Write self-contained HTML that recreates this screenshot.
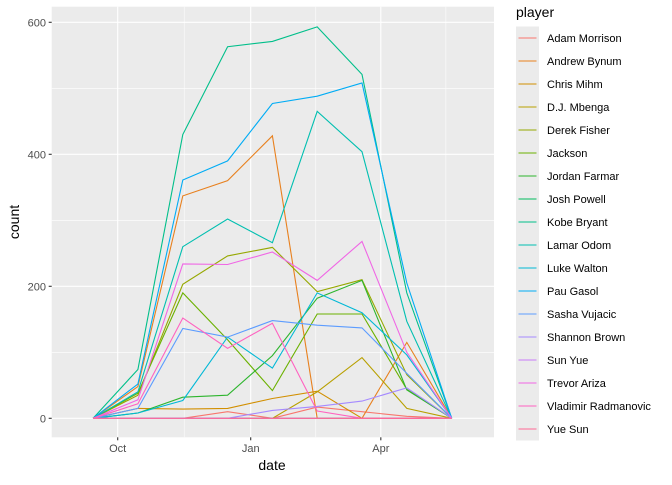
<!DOCTYPE html>
<html><head><meta charset="utf-8"><style>
body{margin:0;background:#fff;}
svg text{font-family:"Liberation Sans",Arial,sans-serif;}
</style></head><body>
<svg id="chart" width="672" height="480" viewBox="0 0 672 480">
<rect x="51.7" y="6.7" width="442.3" height="430.6" fill="#EBEBEB"/>
<g id="grid"></g><g id="series"></g><g id="axes"></g><g id="legend"></g>
<text x="272" y="470" font-size="14" text-anchor="middle" fill="#000">date</text>
<text transform="translate(19,222) rotate(-90)" font-size="14" text-anchor="middle" fill="#000">count</text>
</svg>
<script>
const dayOffsets=[-17,14,45,76,107,138,169,200,231];
const players=["Adam Morrison","Andrew Bynum","Chris Mihm","D.J. Mbenga","Derek Fisher","Jackson","Jordan Farmar","Josh Powell","Kobe Bryant","Lamar Odom","Luke Walton","Pau Gasol","Sasha Vujacic","Shannon Brown","Sun Yue","Trevor Ariza","Vladimir Radmanovic","Yue Sun"];
const colors=["#F8766D","#E8801E","#D28F00","#B8A000","#96A800","#6BB100","#2DB52D","#00BB5E","#00BF8A","#00BFB0","#00B8D6","#00ACF5","#5C9CFF","#A58AFF","#C97BF8","#F066E5","#FF62C0","#FF6A94"];
const vAdam=[0,0,0,10,0,17,10,3,0];
const vBynum=[0,48,337,360,428,0,0,115,0];
const vMihm=[0,15,14,15,30,41,0,0,0];
const vMbenga=[0,0,0,0,0,40,92,15,0];
const vFisher=[0,35,203,246,259,192,210,66,0];
const vJackson=[0,38,190,119,42,158,158,44,0];
const vFarmar=[0,8,32,35,95,182,209,43,0];
const vPowell=[0,0,0,0,0,0,0,0,0];
const vKobe=[0,74,430,563,571,593,521,190,0];
const vLamar=[0,40,260,302,266,465,404,147,0];
const vWalton=[0,8,27,123,76,190,160,96,0];
const vGasol=[0,52,361,390,477,488,508,205,0];
const vVujacic=[0,15,136,123,148,141,137,68,0];
const vBrown=[0,0,0,0,12,18,26,46,0];
const vSunYue=[0,0,0,0,0,0,0,0,0];
const vAriza=[0,28,234,233,252,209,268,100,0];
const vRadmanovic=[0,22,152,106,144,11,0,0,0];
const vYueSun=[0,0,0,0,0,0,0,0,0];
const seriesValues=[vAdam,vBynum,vMihm,vMbenga,vFisher,vJackson,vFarmar,vPowell,vKobe,vLamar,vWalton,vGasol,vVujacic,vBrown,vSunYue,vAriza,vRadmanovic,vYueSun];
const yTicks=[0,200,400,600];
const yMinor=[100,300,500];
const xTickLabels=["Oct","Jan","Apr"];
const xTickDays=[0,92,182];
const xMinorDays=[46,137,227];

const NS="http://www.w3.org/2000/svg";
function xs(d){return 117.7+d*1.4457;}
function ys(v){return 418.3-v*0.66;}
function mk(tag,attrs,parent){const e=document.createElementNS(NS,tag);for(const k in attrs)e.setAttribute(k,attrs[k]);parent.appendChild(e);return e;}
const grid=document.getElementById('grid'),axes=document.getElementById('axes'),ser=document.getElementById('series'),leg=document.getElementById('legend');
yMinor.forEach(v=>{const l=mk('line',{x1:51.7,x2:494,y1:ys(v),y2:ys(v),stroke:'#fff','stroke-width':0.55},grid);

});
xMinorDays.forEach(d=>{const l=mk('line',{x1:xs(d),x2:xs(d),y1:6.7,y2:437.3,stroke:'#fff','stroke-width':0.55},grid);

});
yTicks.forEach(v=>{const l=mk('line',{x1:51.7,x2:494,y1:ys(v),y2:ys(v),stroke:'#fff','stroke-width':1.1},grid);


const t=mk('line',{x1:48.7,x2:51.7,y1:ys(v),y2:ys(v),stroke:'#333','stroke-width':1.1},axes);


const tx=mk('text',{x:46,y:ys(v)+4,'font-size':11,'text-anchor':'end',fill:'#4D4D4D'},axes);tx.textContent=v;

});
xTickDays.forEach((d,i)=>{const l=mk('line',{x1:xs(d),x2:xs(d),y1:6.7,y2:437.3,stroke:'#fff','stroke-width':1.1},grid);


const t=mk('line',{x1:xs(d),x2:xs(d),y1:437.3,y2:440.3,stroke:'#333','stroke-width':1.1},axes);


const tx=mk('text',{x:xs(d),y:452,'font-size':11,'text-anchor':'middle',fill:'#4D4D4D'},axes);tx.textContent=xTickLabels[i];

});
seriesValues.forEach((vals,i)=>{const pts=vals.map((v,j)=>xs(dayOffsets[j]).toFixed(1)+','+ys(v).toFixed(1)).join(' ');
const p=mk('polyline',{points:pts,fill:'none',stroke:colors[i],'stroke-width':1.1},ser);

});
const lt=mk('text',{x:516,y:17,'font-size':14,fill:'#000'},leg);lt.textContent='player';


players.forEach((n,i)=>{const y=38+i*23;
const g=mk('g',{},leg);


mk('rect',{x:516,y:y-11.5,width:23,height:23,fill:'#EBEBEB'},g);
mk('line',{x1:518.5,x2:536.5,y1:y,y2:y,stroke:colors[i],'stroke-width':1.1},g);
const t=mk('text',{x:547,y:y+4,'font-size':11,fill:'#000'},g);t.textContent=n;});
</script>
</body></html>
